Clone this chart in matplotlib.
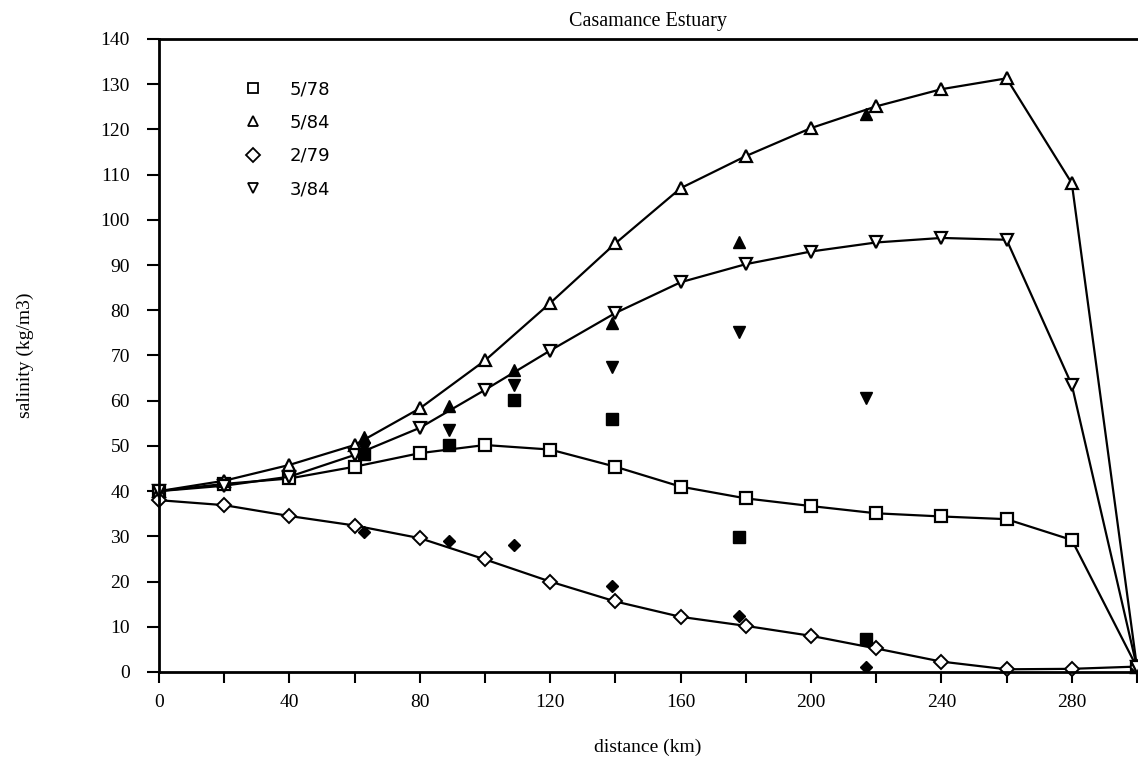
import numpy as np
import matplotlib.pyplot as plt
from matplotlib.ticker import MultipleLocator

plt.rcParams.update({
    "font.family": "serif",
    "font.serif": ["Liberation Serif", "DejaVu Serif"],
    "font.size": 14,
})

# distance along the estuary (km)
dist = [0, 20, 40, 60, 80, 100, 120, 140, 160, 180, 200, 220, 240, 260, 280, 300]

# modelled salinity profiles (open symbols + line)
sal_578 = [40, 41.6, 42.8, 45.4, 48.4, 50.2, 49.2, 45.4, 41, 38.4, 36.7, 35.1, 34.4, 33.8, 29.2, 1]
sal_584 = [40, 42.3, 45.8, 50.2, 58.3, 68.9, 81.6, 94.8, 107, 114.1, 120.3, 125.1, 128.9, 131.3, 108.1, 1]
sal_279 = [38, 36.9, 34.5, 32.4, 29.6, 24.9, 20, 15.6, 12.2, 10.2, 8, 5.2, 2.3, 0.6, 0.7, 1.2]
sal_384 = [40, 41.2, 43.2, 48, 54, 62.4, 71.1, 79.4, 86.2, 90.2, 93, 95, 96, 95.6, 63.5, 1]

# measured values (filled symbols)
obs_dist = [63, 89, 109, 139, 178, 217]
obs_578 = [48.2, 50.2, 60.2, 56, 29.9, 7.2]
obs_584 = [52, 58.8, 66.8, 77.1, 95.2, 123.5]
obs_279 = [30.9, 29, 28.1, 19, 12.4, 1]
obs_384 = [49.5, 53.5, 63.5, 67.5, 75.3, 60.5]

fig = plt.figure(figsize=(11.38, 7.57), dpi=100)
ax = fig.add_axes([159/1138, 1 - 672/757, 978/1138, 633/757])

lw = 1.6
ax.plot(dist, sal_578, color="black", lw=lw, marker="s", ms=9, mfc="white",
        mec="black", mew=1.6, label="5/78", clip_on=False)
ax.plot(dist, sal_584, color="black", lw=lw, marker="^", ms=9, mfc="white",
        mec="black", mew=1.6, label="5/84", clip_on=False)
ax.plot(dist, sal_279, color="black", lw=lw, marker="D", ms=7, mfc="white",
        mec="black", mew=1.4, label="2/79", clip_on=False)
ax.plot(dist, sal_384, color="black", lw=lw, marker="v", ms=9, mfc="white",
        mec="black", mew=1.6, label="3/84", clip_on=False)

ax.plot(obs_dist, obs_578, ls="none", marker="s", ms=8, color="black")
ax.plot(obs_dist, obs_584, ls="none", marker="^", ms=8, color="black")
ax.plot(obs_dist, obs_279, ls="none", marker="D", ms=6.5, color="black")
ax.plot(obs_dist, obs_384, ls="none", marker="v", ms=8, color="black")

ax.set_xlim(0, 300)
ax.set_ylim(0, 140)
ax.xaxis.set_minor_locator(MultipleLocator(20))
ax.yaxis.set_major_locator(MultipleLocator(10))
ax.set_xticks([0, 40, 80, 120, 160, 200, 240, 280])
ax.tick_params(axis="x", which="both", direction="out", length=8, width=1.5, pad=8)
ax.tick_params(axis="y", direction="out", length=9, width=1.5, pad=12)

for side in ["left", "bottom", "top"]:
    ax.spines[side].set_linewidth(2)
ax.spines["right"].set_visible(False)

ax.set_title("Casamance Estuary", fontsize=14.5, pad=9)
ax.set_xlabel("distance (km)", fontsize=14, labelpad=20)
ax.set_ylabel("salinity (kg/m3)", fontsize=14, labelpad=48)

leg = ax.legend(loc="upper left", bbox_to_anchor=(0.087, 0.935), frameon=False,
                handlelength=1.0, handletextpad=1.5, labelspacing=0.85,
                borderpad=0, borderaxespad=0,
                prop={"family": "DejaVu Sans", "size": 13})
for h in leg.legend_handles:
    h.set_linestyle("none")
    h.set_markersize(7.5)
    h.set_markeredgewidth(1.3)

fig.savefig("out.png", dpi=100)
